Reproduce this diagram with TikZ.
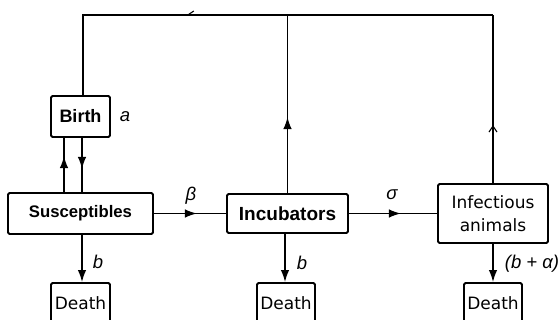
\documentclass[tikz,border=0pt]{standalone}
\usepackage{fontspec}
\usetikzlibrary{arrows.meta,decorations.markings}
\newfontfamily\djv{DejaVu Sans}
\newfontfamily\lib{Liberation Sans}
\tikzset{
  box/.style={draw,line width=1.9pt,rounded corners=1.5pt,inner sep=0pt,align=center},
  conn/.style={line width=1.5pt},
  midarrow/.style={postaction={decorate},decoration={markings,mark=at position #1 with {\arrow{Latex[length=12pt,width=8.5pt]}}}},
  midbarb/.style={postaction={decorate},decoration={markings,mark=at position #1 with {\arrow{Straight Barb[length=6pt,width=8pt,line width=1.1pt]}}}},
  midharp/.style={postaction={decorate},decoration={markings,mark=at position #1 with {\arrow{Straight Barb[harpoon,swap,length=6pt,width=8pt,line width=1.1pt]}}}},
  endarrow/.style={-{Latex[length=12pt,width=8.5pt]}},
  lab/.style={inner sep=0pt,font=\lib\itshape\fontsize{18.5}{20}\selectfont},
}
\begin{document}
\begin{tikzpicture}[x=1pt,y=-1pt]
\useasboundingbox (0,0) rectangle (560,320);
% boxes
\node[box,minimum width=59pt,minimum height=41pt,font=\lib\bfseries\fontsize{18}{20}\selectfont] (birth) at (80.5,116.5) {Birth};
\node[box,minimum width=145pt,minimum height=41pt,font=\lib\bfseries\fontsize{16.7}{19}\selectfont] (sus) at (80.5,213.5) {Susceptibles};
\node[box,minimum width=121pt,minimum height=39pt,font=\lib\bfseries\fontsize{19}{21}\selectfont] (inc) at (287.5,213.5) {Incubators};
\node[box,minimum width=110pt,minimum height=59pt,font=\djv\fontsize{17}{23}\selectfont] (inf) at (493,213.5) {Infectious\\animals};
\node[box,minimum width=59pt,minimum height=40pt,font=\djv\fontsize{17}{19}\selectfont] (d1) at (80.5,303) {Death};
\node[box,minimum width=58pt,minimum height=40pt,font=\djv\fontsize{17}{19}\selectfont] (d2) at (286,303) {Death};
\node[box,minimum width=58pt,minimum height=40pt,font=\djv\fontsize{17}{19}\selectfont] (d3) at (493,303) {Death};
% helper coordinates
\coordinate (xa) at (64,0);
\coordinate (xb) at (82,0);
\coordinate (xc) at (285,0);
\coordinate (tl) at (83,15);
\coordinate (tm) at (287.5,15);
\coordinate (tr) at (493,15);
% connectors
\draw[conn,midarrow=36pt] (sus.north -| xa) -- (birth.south -| xa);
\draw[conn,midarrow=31pt] (birth.south -| xb) -- (sus.north -| xb);
\draw[conn,midarrow=43pt] (sus.east) -- (inc.west);
\draw[conn,midarrow=52pt] (inc.east) -- (inf.west);
\draw[conn,endarrow] (sus.south -| xb) -- (d1.north -| xb);
\draw[conn,endarrow] (inc.south -| xc) -- (d2.north -| xc);
\draw[conn,endarrow] (inf.south) -- (d3.north);
\draw[conn,midarrow=76pt] (inc.north) -- (tm);
\draw[conn,midbarb=58pt] (inf.north) -- (tr);
\draw[conn,midharp=307pt] (tr) -- (tl) -- (birth.north -| tl);
% labels
\node[lab] (la) at (125,117) {a};
\node[lab] (lbeta) at (191,196) {β};
\node[lab] (lsigma) at (392,195) {σ};
\node[lab] (lb1) at (98,262) {b};
\node[lab] (lb2) at (302,263) {b};
\node[lab] (lba) at (532,264) {(b + α)};
\end{tikzpicture}
\end{document}
